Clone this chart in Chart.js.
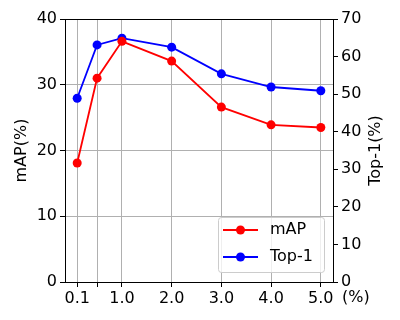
<!DOCTYPE html>
<html>
<head>
<meta charset="utf-8">
<script src="https://cdn.jsdelivr.net/npm/chart.js@4/dist/chart.umd.min.js"></script>
<style>
  body { margin: 0; background: #fff; }
  canvas { display: block; }
</style>
</head>
<body>
<canvas id="myChart" width="400" height="320"></canvas>
<script>
'use strict';

let ratios = [0.1, 0.5, 1.0, 2.0, 3.0, 4.0, 5.0];
let mapValues = [18.1, 31.0, 36.6, 33.6, 26.6, 23.9, 23.5];
let top1Values = [48.9, 63.1, 64.9, 62.5, 55.4, 51.9, 50.9];
let xTicks = [0.1, 0.5, 1.0, 2.0, 3.0, 4.0, 5.0];
let leftTicks = [0, 10, 20, 30, 40];
let rightTicks = [0, 10, 20, 30, 40, 50, 60, 70];
let seriesNames = ['mAP', 'Top-1'];
let seriesColors = ['#ff0000', '#0000ff'];

let font = { family: 'DejaVu Sans', size: 16 };

function toPoints(values) {
    let pts = [];
    for (let i = 0; i < ratios.length; i++) {
        pts.push({ x: ratios[i], y: values[i] });
    }
    return pts;
}

function fixTicks(list) {
    return function (scale) {
        scale.ticks = list.map(function (v) { return { value: v }; });
    };
}

let framePlugin = {
    id: 'frame',
    afterDraw(chart) {
        let ctx = chart.ctx;
        let a = chart.chartArea;
        ctx.save();
        ctx.strokeStyle = '#000';
        ctx.lineWidth = 1;
        ctx.strokeRect(Math.round(a.left) + 0.5, Math.round(a.top) + 0.5,
            Math.round(a.right - a.left), Math.round(a.bottom - a.top));

        ctx.fillStyle = '#000';
        ctx.font = '16px "DejaVu Sans"';
        ctx.textBaseline = 'middle';

        // right axis title, reading bottom to top like the left one
        ctx.save();
        ctx.translate(376, (a.top + a.bottom) / 2);
        ctx.rotate(-Math.PI / 2);
        ctx.textAlign = 'center';
        ctx.fillText('Top-1(%)', 0, 0);
        ctx.restore();

        // unit text after the last x tick
        ctx.textAlign = 'left';
        ctx.fillText('(%)', 342, 298);

        // legend, lower right inside the plot
        let bx = 218, by = 217, bw = 106, bh = 55;
        ctx.fillStyle = 'rgba(255,255,255,0.8)';
        ctx.strokeStyle = '#cccccc';
        ctx.beginPath();
        ctx.roundRect(bx + 0.5, by + 0.5, bw, bh, 3);
        ctx.fill();
        ctx.stroke();
        for (let i = 0; i < seriesNames.length; i++) {
            let y = by + 13 + i * 27;
            ctx.strokeStyle = seriesColors[i];
            ctx.lineWidth = 2;
            ctx.beginPath();
            ctx.moveTo(223, y);
            ctx.lineTo(258, y);
            ctx.stroke();
            ctx.fillStyle = seriesColors[i];
            ctx.beginPath();
            ctx.arc(240.5, y, 4.5, 0, Math.PI * 2);
            ctx.fill();
            ctx.fillStyle = '#000';
            ctx.fillText(seriesNames[i], 270, y);
        }
        ctx.restore();
    }
};

let ctx = document.getElementById('myChart').getContext('2d');
Chart.defaults.color = '#000';

let myChart = new Chart(ctx, {
    type: 'line',
    data: {
        datasets: [{
            label: seriesNames[0],
            data: toPoints(mapValues),
            yAxisID: 'y',
            borderColor: seriesColors[0],
            backgroundColor: seriesColors[0],
            borderWidth: 1.8,
            pointRadius: 4.5,
            pointBorderWidth: 0,
            tension: 0
        }, {
            label: seriesNames[1],
            data: toPoints(top1Values),
            yAxisID: 'y1',
            borderColor: seriesColors[1],
            backgroundColor: seriesColors[1],
            borderWidth: 1.8,
            pointRadius: 4.5,
            pointBorderWidth: 0,
            tension: 0
        }]
    },
    options: {
        responsive: false,
        animation: false,
        layout: { padding: { top: 19, left: 0, right: 0, bottom: 0 } },
        plugins: {
            legend: { display: false },
            tooltip: { enabled: false }
        },
        scales: {
            x: {
                type: 'linear',
                min: -0.145,
                max: 5.245,
                afterBuildTicks: fixTicks(xTicks),
                afterFit(scale) { scale.height = 38; },
                border: { display: false },
                grid: { color: '#b0b0b0', tickColor: '#000', tickLength: 5 },
                ticks: {
                    font: font,
                    padding: 2,
                    maxRotation: 0,
                    autoSkip: false,
                    callback: function (v) { return v === 0.5 ? '' : v.toFixed(1); }
                }
            },
            y: {
                position: 'left',
                min: 0,
                max: 40,
                afterBuildTicks: fixTicks(leftTicks),
                afterFit(scale) { scale.width = 65; },
                border: { display: false },
                grid: { color: '#b0b0b0', tickColor: '#000', tickLength: 5 },
                ticks: { font: font, padding: 3 },
                title: { display: true, text: 'mAP(%)', font: font, padding: { top: 12, bottom: 0 } }
            },
            y1: {
                position: 'right',
                min: 0,
                max: 70,
                afterBuildTicks: fixTicks(rightTicks),
                afterFit(scale) { scale.width = 67; },
                border: { display: false },
                grid: { drawOnChartArea: false, tickColor: '#000', tickLength: 5 },
                ticks: { font: font, padding: 3 }
            }
        }
    },
    plugins: [framePlugin]
});
</script>
</body>
</html>
